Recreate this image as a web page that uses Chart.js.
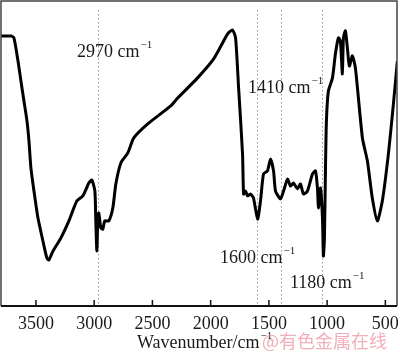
<!DOCTYPE html>
<html><head><meta charset="utf-8">
<script src="https://cdn.jsdelivr.net/npm/chart.js@4/dist/chart.umd.min.js"></script>
<style>html,body{margin:0;padding:0;background:#fff}#wrap{width:400px;height:352px;position:relative}</style>
</head><body><div id="wrap"><canvas id="c" width="400" height="352"></canvas></div>
<script>
// Wavenumber (cm-1) and transmittance (%, relative)
const wavenumbers = [3800,3714,3689,3654,3629,3603,3577,3560,3543,3517,3483,3440,3406,3389,3354,3286,3217,3149,3097,3046,3020,2994,2986,2977,2969,2960,2943,2926,2909,2874,2840,2814,2771,2711,2660,2540,2343,2283,2112,1974,1854,1812,1786,1760,1726,1717,1700,1683,1657,1632,1597,1572,1546,1512,1486,1460,1443,1400,1374,1340,1314,1289,1254,1229,1203,1169,1126,1100,1083,1074,1057,1040,1032,1023,1014,1006,989,954,929,903,886,869,860,843,826,809,783,757,697,654,612,569,526,474,431,397];
const transmittance = [88.5,88.5,87.9,80.3,73.8,67.2,60.7,54.1,45.2,37.7,28.9,21.3,15.7,15.1,18.0,22.3,27.9,34.4,36.1,40.3,41.3,37.7,27.9,18.0,27.9,30.5,25.6,25.2,27.9,27.9,32.1,40.0,46.9,50.2,55.1,59.7,65.6,68.2,74.8,81.0,89.2,90.5,87.9,71.5,49.8,36.7,37.7,36.1,36.7,35.4,28.5,34.4,43.3,44.3,48.2,44.3,37.7,35.1,37.7,41.6,39.3,40.3,38.4,40.0,36.7,37.7,43.3,44.3,38.7,32.1,38.7,28.9,16.4,22.3,45.2,60.7,70.5,74.8,82.6,87.9,86.9,76.1,87.9,90.2,84.6,78.7,82.0,78.0,55.1,47.5,35.4,27.9,34.4,49.8,66.2,80.3];
const tickValues = [3500,3000,2500,2000,1500,1000,500];
const markerLines = [2970,1600,1400,1045];
const markerLabels = ["2970","1410","1600","1180"];
const labelPos = [[77,52],[248,88],[220,258],[290,283]];
const axisTitle = "Wavenumber/cm";
const watermark = "@有色金属在线";

const SERIF = "'Liberation Serif','Times New Roman',serif";
const points = wavenumbers.map((w,i)=>({x:w,y:transmittance[i]}));

const deco = {
  id:'deco',
  beforeDatasetsDraw(chart){
    const {ctx, chartArea:a, scales:{x}} = chart;
    ctx.save();
    ctx.strokeStyle='#999';
    ctx.lineWidth=1;
    ctx.setLineDash([1.5,2.5]);
    markerLines.forEach(v=>{
      const px=Math.round(x.getPixelForValue(v))+0.5;
      ctx.beginPath();ctx.moveTo(px,a.top+9);ctx.lineTo(px,a.bottom);ctx.stroke();
    });
    ctx.restore();
  },
  afterDraw(chart){
    const {ctx, chartArea:a, scales:{x}} = chart;
    ctx.save();
    ctx.strokeStyle='#444';ctx.lineWidth=1.5;
    ctx.beginPath();
    ctx.moveTo(a.left,a.bottom);ctx.lineTo(a.left,a.top);ctx.lineTo(a.right,a.top);ctx.lineTo(a.right,a.bottom);
    ctx.stroke();
    ctx.strokeStyle='#111';ctx.lineWidth=2;
    ctx.beginPath();ctx.moveTo(a.left,a.bottom);ctx.lineTo(a.right,a.bottom);ctx.stroke();
    ctx.lineWidth=1.5;
    tickValues.forEach(v=>{
      const px=x.getPixelForValue(v);
      ctx.beginPath();ctx.moveTo(px,a.bottom);ctx.lineTo(px,a.bottom-6);ctx.stroke();
    });
    ctx.fillStyle='#1a1a1a';ctx.textBaseline='middle';ctx.textAlign='left';
    markerLabels.forEach((t,i)=>{
      const [lx,ly]=labelPos[i];
      ctx.font="18px "+SERIF;
      const s=t+" cm";
      ctx.fillText(s,lx,ly);
      const w=ctx.measureText(s).width;
      ctx.font="11px "+SERIF;
      ctx.fillText("\u22121",lx+w+1,ly-7);
    });
    ctx.font="18px "+SERIF;
    const tw=ctx.measureText(axisTitle).width;
    ctx.fillText(axisTitle,137,343);
    ctx.font="11px "+SERIF;
    ctx.fillText("\u22121",137+tw+1,336);
    ctx.font="18px 'Noto Sans CJK SC',sans-serif";
    ctx.fillStyle='rgba(236,140,155,0.7)';
    ctx.fillText(watermark,262,341);
    ctx.restore();
  }
};

new Chart(document.getElementById('c'),{
  type:'line',
  data:{datasets:[{data:points,borderColor:'#000',borderWidth:3,pointRadius:0,tension:0.2,fill:false}]},
  options:{
    responsive:false,animation:false,
    layout:{autoPadding:false,padding:{left:1,right:3,top:1,bottom:10}},
    plugins:{legend:{display:false},tooltip:{enabled:false}},
    scales:{
      x:{type:'linear',reverse:true,min:400,max:3800,
        afterBuildTicks(s){s.ticks=tickValues.map(v=>({value:v}));},
        afterFit(s){s.paddingLeft=0;s.paddingRight=0;},
        grid:{display:false,drawTicks:false},
        border:{display:false},
        ticks:{color:'#1a1a1a',padding:9,maxRotation:0,autoSkip:false,callback:v=>String(v),font:{family:SERIF,size:18,lineHeight:1}}
      },
      y:{display:false,min:0,max:100}
    }
  },
  plugins:[deco]
});
</script></body></html>
